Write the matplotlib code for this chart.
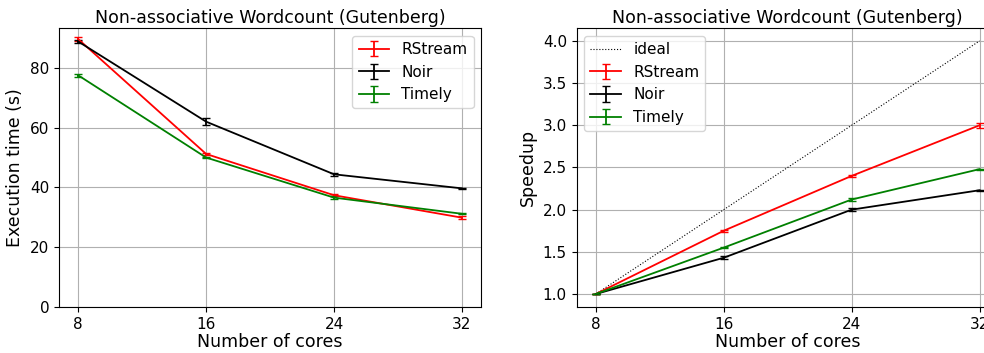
import numpy as np
import matplotlib
matplotlib.use("Agg")
import matplotlib.pyplot as plt

cores = [8, 16, 24, 32]
labels = ["RStream", "Noir", "Timely"]
colors = ["red", "black", "green"]

# execution time (s)
time_rstream = [89.6, 51.2, 37.4, 29.9]
time_noir = [88.8, 62.0, 44.4, 39.7]
time_timely = [77.5, 50.0, 36.6, 31.2]
err_rstream = [0.6, 0.3, 0.3, 0.5]
err_noir = [0.5, 1.1, 0.5, 0.2]
err_timely = [0.6, 0.3, 0.4, 0.2]

# speedup
sp_rstream = [1.0, 1.75, 2.40, 3.00]
sp_noir = [1.0, 1.43, 2.00, 2.23]
sp_timely = [1.0, 1.55, 2.12, 2.48]
sperr_rstream = [0.005, 0.01, 0.01, 0.03]
sperr_noir = [0.005, 0.02, 0.02, 0.005]
sperr_timely = [0.005, 0.01, 0.02, 0.005]
ideal = [1.0, 2.0, 3.0, 4.0]

times = [time_rstream, time_noir, time_timely]
terrs = [err_rstream, err_noir, err_timely]
speeds = [sp_rstream, sp_noir, sp_timely]
serrs = [sperr_rstream, sperr_noir, sperr_timely]

title = "Non-associative Wordcount (Gutenberg)"
tfs = 11

fig = plt.figure(figsize=(9.84, 3.53), dpi=100)
ax1 = fig.add_axes([0.060, 0.130, 0.429, 0.790])
ax2 = fig.add_axes([0.586, 0.130, 0.429, 0.790])

for j in range(len(labels)):
    ax1.errorbar(cores, times[j], yerr=terrs[j], color=colors[j], label=labels[j], capsize=3, lw=1.3)
ax1.set_ylim(bottom=0)
ax1.set_xticks(cores)
ax1.set_xlabel("Number of cores", fontsize=12.5, labelpad=1)
ax1.set_ylabel("Execution time (s)", fontsize=12.5)
ax1.set_title(title, fontsize=12.5, pad=4)
ax1.grid(True)
ax1.tick_params(labelsize=tfs)
ax1.legend(loc="upper right", fontsize=tfs)

ax2.plot(cores, ideal, color="black", linestyle=":", lw=0.8, label="ideal")
for j in range(len(labels)):
    ax2.errorbar(cores, speeds[j], yerr=serrs[j], color=colors[j], label=labels[j], capsize=3, lw=1.3)
ax2.set_xticks(cores)
ax2.set_xlabel("Number of cores", fontsize=12.5, labelpad=1)
ax2.set_ylabel("Speedup", fontsize=12.5)
ax2.set_title(title, fontsize=12.5, pad=4)
ax2.grid(True)
ax2.tick_params(labelsize=tfs)
ax2.legend(loc="upper left", fontsize=tfs)

fig.savefig("out.png", dpi=100)
